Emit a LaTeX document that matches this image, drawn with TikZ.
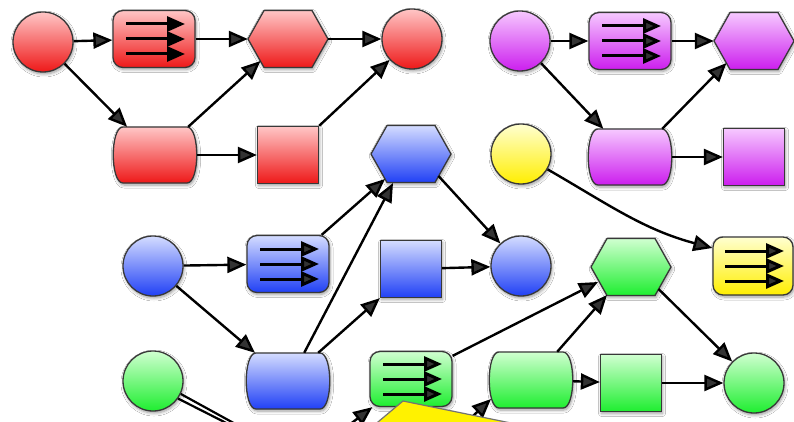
\documentclass[tikz,border=0pt]{standalone}
\usetikzlibrary{arrows.meta,calc,shadows.blur}
\definecolor{rT}{HTML}{FFC6C6}\definecolor{rB}{HTML}{EE1818}
\definecolor{pT}{HTML}{F6C8FF}\definecolor{pB}{HTML}{CC1EEE}
\definecolor{bT}{HTML}{D4DCFF}\definecolor{bB}{HTML}{2040F5}
\definecolor{gT}{HTML}{D0FFD0}\definecolor{gB}{HTML}{1EEE30}
\definecolor{yT}{HTML}{FFFFD0}\definecolor{yB}{HTML}{FFEE00}
\tikzset{
 base/.style={draw=black!78, line width=1.3pt,
   blur shadow={shadow blur steps=6, shadow xshift=1pt, shadow yshift=-2pt, shadow opacity=40, shadow blur radius=3pt}},
 fillR/.style={top color=rT, bottom color=rB},
 fillP/.style={top color=pT, bottom color=pB},
 fillB/.style={top color=bT, bottom color=bB},
 fillG/.style={top color=gT, bottom color=gB},
 fillY/.style={top color=yT, bottom color=yB},
 circ/.style={circle, minimum size=60pt, inner sep=0pt, base},
 sqr/.style={rectangle, minimum width=61pt, minimum height=57pt, inner sep=0pt, base},
 abox/.style={rectangle, rounded corners=10pt, minimum width=82pt, minimum height=57pt, inner sep=0pt, base},
 hexb/.style={rectangle, minimum width=80pt, minimum height=57pt, inner sep=0pt},
 bulb/.style={rectangle, minimum width=84pt, minimum height=56pt, inner sep=0pt},
 conn/.style={line width=2.4pt, -{Triangle[length=19pt,width=16pt]}},
 inarr/.style={line width=3pt, -{Triangle[length=18pt,width=15pt]}},
 freeln/.style={line width=2.2pt},
}
\newcommand\hexat[3]{%
 \node[hexb] (#1) at (#2) {};
 \path[base,#3] ([shift={(-40pt,0pt)}]#1.center) -- ([shift={(-24pt,28.5pt)}]#1.center)
   -- ([shift={(24pt,28.5pt)}]#1.center) -- ([shift={(40pt,0pt)}]#1.center)
   -- ([shift={(24pt,-28.5pt)}]#1.center) -- ([shift={(-24pt,-28.5pt)}]#1.center) -- cycle;
 \coordinate (#1-sw) at ([shift={(-27.5pt,-22pt)}]#1.center);
 \coordinate (#1-se) at ([shift={(27.5pt,-22pt)}]#1.center);
}
\newcommand\bulat[3]{%
 \node[bulb] (#1) at (#2) {};
 \path[base,#3] ([shift={(-32pt,28pt)}]#1.center) -- ([shift={(32pt,28pt)}]#1.center)
   .. controls ([shift={(45pt,28pt)}]#1.center) and ([shift={(45pt,-28pt)}]#1.center) .. ([shift={(32pt,-28pt)}]#1.center)
   -- ([shift={(-32pt,-28pt)}]#1.center)
   .. controls ([shift={(-45pt,-28pt)}]#1.center) and ([shift={(-45pt,28pt)}]#1.center) .. ([shift={(-32pt,28pt)}]#1.center) -- cycle;
}
\newcommand\arrin[1]{%
 \foreach \dy in {-15,0,15}
  \draw[inarr] ([shift={(-28pt,\dy pt)}]#1.center) -- ([shift={(31pt,\dy pt)}]#1.center);
}
\begin{document}
\begin{tikzpicture}[x=1pt,y=-1pt]
\useasboundingbox (0,0) rectangle (794,422);
\fill[white] (0,0) rectangle (794,422);
\clip (0,0) rectangle (794,422);
% red group
\node[circ,fillR] (r1) at (43,42) {};
\node[abox,fillR] (r2) at (154,39) {}; \arrin{r2}
\hexat{r3}{288,39}{fillR}
\node[circ,fillR] (r4) at (412,39) {};
\bulat{r5}{155,155}{fillR}
\node[sqr,fillR] (r6) at (288,155) {};
% purple group
\node[circ,fillP] (p1) at (520,41) {};
\node[abox,fillP] (p2) at (630,41) {}; \arrin{p2}
\hexat{p3}{754,41}{fillP}
\bulat{p5}{630,157}{fillP}
\node[sqr,fillP] (p6) at (754,157) {};
% yellow
\node[circ,fillY] (y1) at (521,154) {};
\node[abox,fillY,minimum width=80pt,minimum height=58pt] (y2) at (753,266) {}; \arrin{y2}
% blue group
\hexat{bh}{411,154}{fillB}
\node[circ,fillB] (b1) at (153,266) {};
\node[abox,fillB] (b2) at (288,264) {}; \arrin{b2}
\node[sqr,fillB] (bs) at (411,269) {};
\node[circ,fillB] (bc) at (521,266) {};
\bulat{b5}{288,381}{fillB}
% green group
\node[circ,fillG] (g1) at (153,381) {};
\node[abox,fillG,minimum height=55pt] (g2) at (411,379) {}; \arrin{g2}
\bulat{g5}{531,380}{fillG}
\hexat{gh}{631,267}{fillG}
\node[sqr,fillG] (gs) at (631,383) {};
\node[circ,fillG] (gc) at (754,383) {};
% red connectors
\draw[conn] (r1) -- (r2);
\draw[conn] (r2) -- (r3);
\draw[conn] (r3) -- (r4);
\draw[conn] (r1) -- (r5);
\draw[conn] ([xshift=-9pt]r5.north east) -- (r3-sw);
\draw[conn] (r5) -- (r6);
\draw[conn] (r6.north east) -- (r4);
% purple connectors
\draw[conn] (p1) -- (p2);
\draw[conn] (p2) -- (p3);
\draw[conn] (p1) -- (p5);
\draw[conn] ([xshift=-10pt]p5.north east) -- (p3-sw);
\draw[conn] (p5) -- (p6);
% yellow connector
\draw[conn] (y1) to[out=-30, in=165] ([yshift=18pt]y2.west);
% blue connectors
\draw[conn] (b1) -- (b2);
\draw[conn] ([xshift=-8pt]b2.north east) -- ([shift={(-26pt,-25pt)}]bh.center);
\draw[conn] ([xshift=-26pt]b5.north east) -- ([shift={(-18pt,-29pt)}]bh.center);
\draw[conn] ([xshift=-12pt]b5.north east) -- (bs.south west);
\draw[conn] (bs) -- (bc);
\draw[conn] (bh-se) -- (bc);
\draw[conn] (b1) -- (b5);
% green connectors
\draw[conn] ([yshift=-5pt]g2.north east) -- ([shift={(-33pt,-15pt)}]gh.center);
\draw[conn] ([xshift=-16pt]g5.north east) -- ([shift={(-24pt,-28pt)}]gh.center);
\draw[conn] (g5) -- (gs);
\draw[conn] (gs) -- (gc);
\draw[conn] (gh-se) -- (gc);
\coordinate (o1) at (250,432);
\coordinate (o2) at (244,432);
\draw[freeln] (g1.-25) -- (o1);
\draw[freeln] (g1.-35) -- (o2);
\coordinate (i1) at (340,432);
\coordinate (i2) at (456,432);
\draw[conn] (i1) -- ([xshift=3pt]g2.south west);
\draw[conn] (i2) -- ([shift={(-40pt,-19pt)}]g5.center);
% yellow callout
\path[fill=yellow, draw=black!55, line width=1.2pt] (366,432) -- (403,401) -- (550,431) -- cycle;
\end{tikzpicture}
\end{document}
